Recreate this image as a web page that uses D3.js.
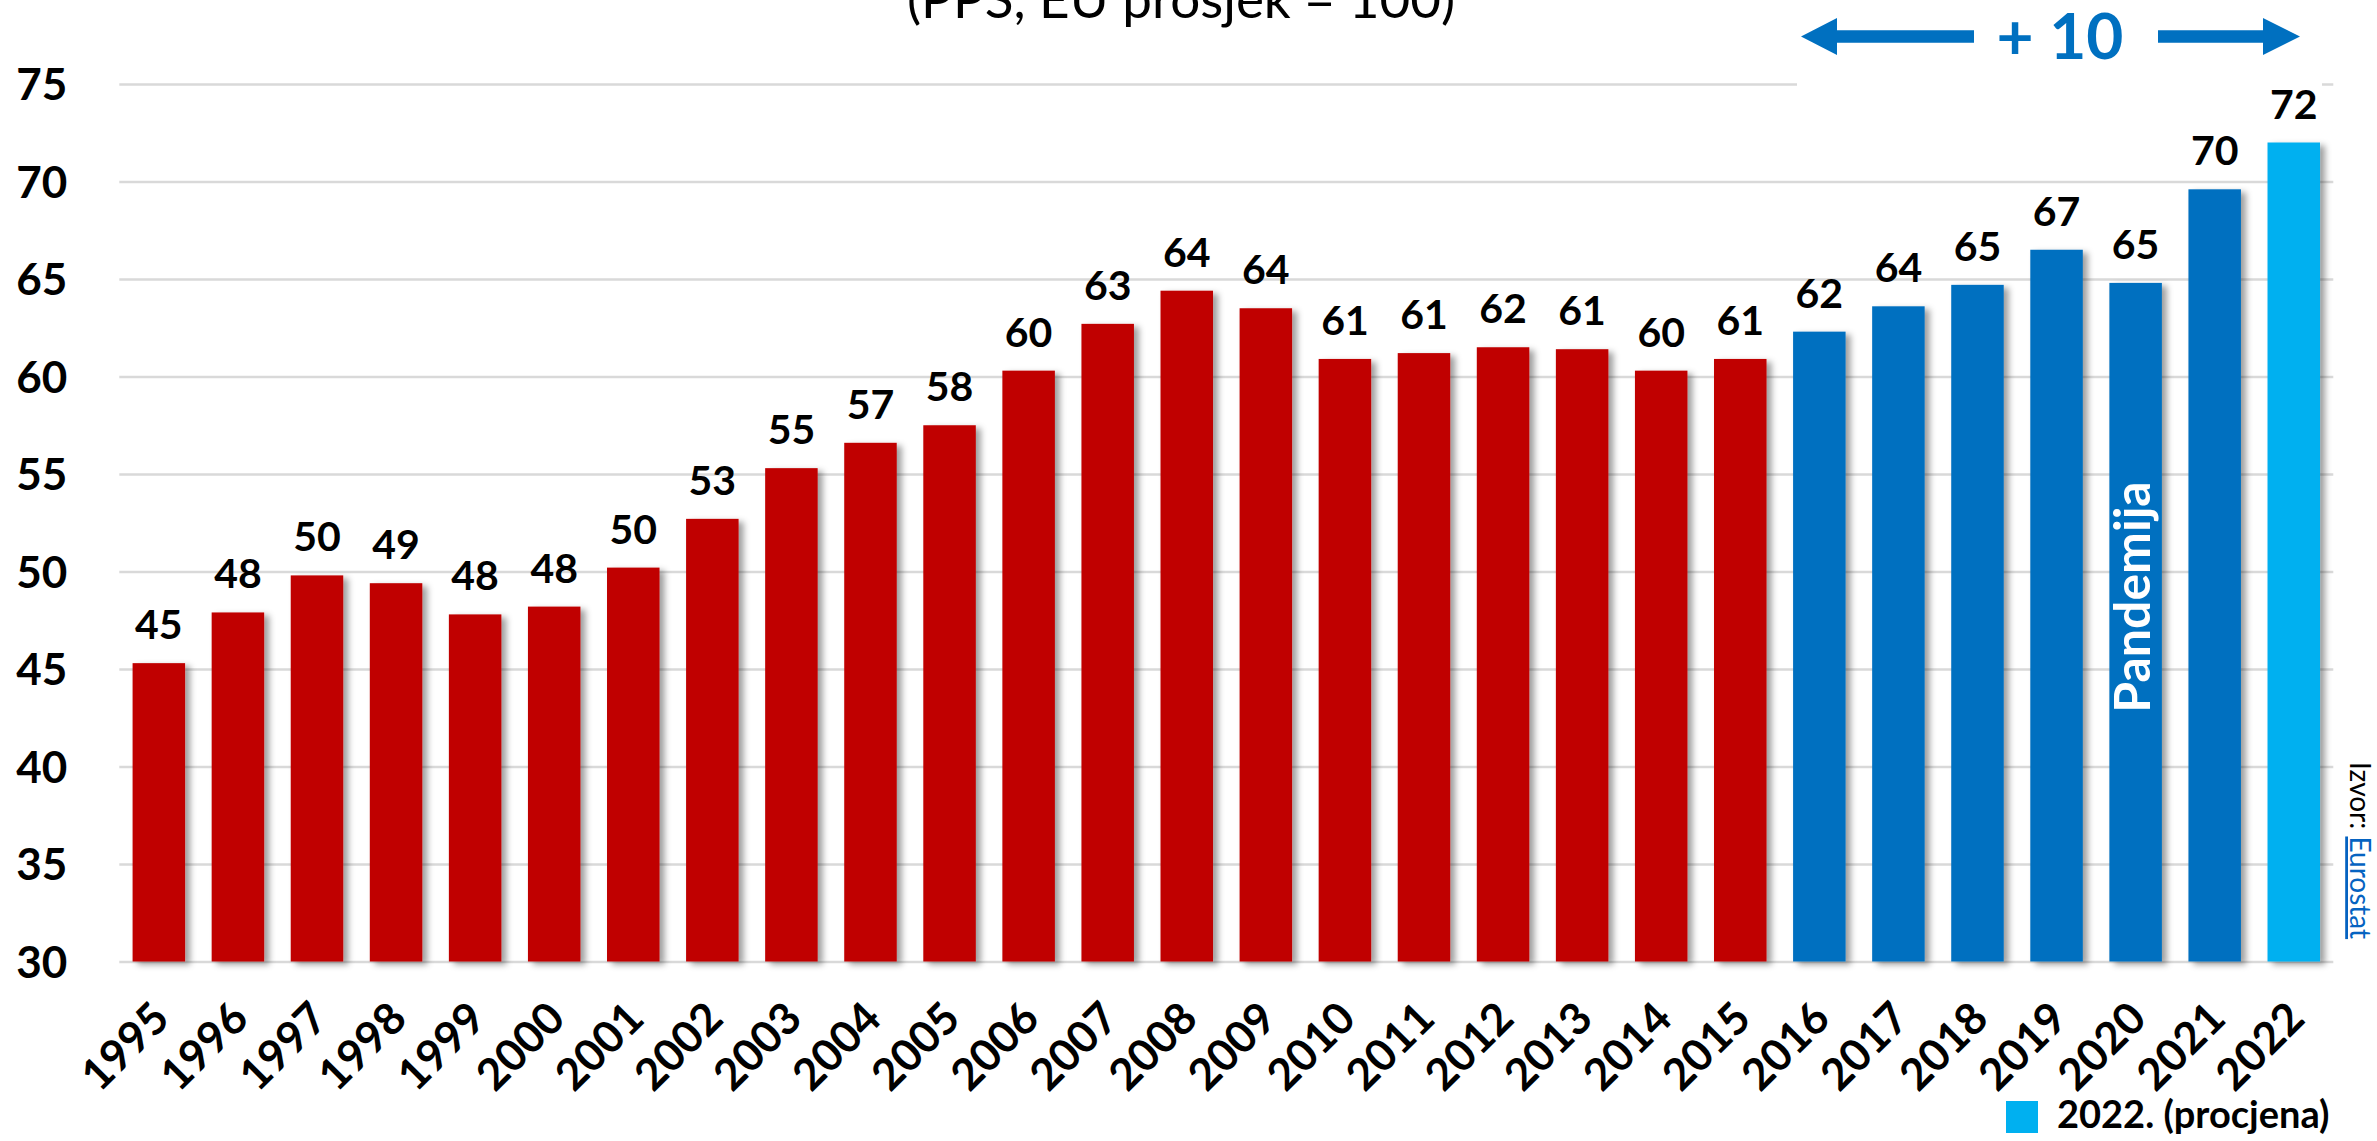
<!DOCTYPE html>
<html>
<head>
<meta charset="utf-8">
<script src="https://cdn.jsdelivr.net/npm/d3@7"></script>
<style>
    html, body { margin: 0; padding: 0; background: #fff; }
    svg { display: block; font-family: Lato, 'Open Sans', sans-serif; }
</style>
</head>
<body>
<svg id="chart" width="2377" height="1141"></svg>
<script>
/**
 * Data.
 */
const years = ['1995', '1996', '1997', '1998', '1999', '2000', '2001', '2002', '2003', '2004',
    '2005', '2006', '2007', '2008', '2009', '2010', '2011', '2012', '2013', '2014',
    '2015', '2016', '2017', '2018', '2019', '2020', '2021', '2022'];
const values = [45.3, 47.9, 49.8, 49.4, 47.8, 48.2, 50.2, 52.7, 55.3, 56.6,
    57.5, 60.3, 62.7, 64.4, 63.5, 60.9, 61.2, 61.5, 61.4, 60.3,
    60.9, 62.3, 63.6, 64.7, 66.5, 64.8, 69.6, 72.0];
const labels = [45, 48, 50, 49, 48, 48, 50, 53, 55, 57,
    58, 60, 63, 64, 64, 61, 61, 62, 61, 60,
    61, 62, 64, 65, 67, 65, 70, 72];
// Period of each bar: colour group
const periods = years.map(y => +y <= 2015 ? 'early' : (+y <= 2021 ? 'late' : 'estimate'));
const yTicks = [30, 35, 40, 45, 50, 55, 60, 65, 70, 75];

const title = '(PPS, EU prosjek = 100)';
const changeText = '+ 10';
const pandemicYear = '2020';
const legendText = '2022. (procjena)';

/**
 * Visual configs.
 */
const colors = { early: '#c00000', late: '#0070c0', estimate: '#00b0f0' };
const plot = { left: 119.3, right: 2333.3, top: 84, bottom: 961.5 };

const svg = d3.select('#chart');

const xScale = d3.scaleBand()
    .domain(years)
    .range([plot.left, plot.right])
    .paddingInner(0.336)
    .paddingOuter(0.168);

const yScale = d3.scaleLinear()
    .domain([30, 75])
    .range([plot.bottom, plot.top]);

// Bar shadow
const defs = svg.append('defs');
defs.append('filter')
    .attr('id', 'shadow')
    .attr('x', '-10%').attr('y', '-5%')
    .attr('width', '140%').attr('height', '115%')
    .append('feDropShadow')
    .attr('dx', 5).attr('dy', 3)
    .attr('stdDeviation', 3)
    .attr('flood-color', '#000')
    .attr('flood-opacity', 0.38);

/**
 * Grid and y axis.
 */
const yAxis = d3.axisLeft(yScale)
    .tickValues(yTicks)
    .tickSize(-(plot.right - plot.left))
    .tickPadding(52);

const yAxisContainer = svg.append('g')
    .attr('class', 'y-axis')
    .attr('transform', 'translate(' + plot.left + ',0)')
    .call(yAxis);

yAxisContainer.select('.domain').remove();
yAxisContainer.selectAll('.tick line')
    .attr('stroke', '#d9d9d9')
    .attr('stroke-width', 2.5);
yAxisContainer.selectAll('.tick text')
    .attr('fill', '#000')
    .attr('font-size', 44)
    .attr('font-weight', 700)
    .attr('font-family', 'Lato, sans-serif')
    .attr('dy', '0.36em');

// Text box of the arrow covers the top gridline
svg.append('rect')
    .attr('x', 1797).attr('y', 0)
    .attr('width', 2322 - 1797).attr('height', 88)
    .attr('fill', '#fff');

/**
 * Bars.
 */
const itemContainer = svg.append('g').attr('class', 'items');

itemContainer.selectAll('rect')
    .data(years)
    .join('rect')
    .attr('x', d => xScale(d))
    .attr('y', (d, i) => yScale(values[i]))
    .attr('width', xScale.bandwidth())
    .attr('height', (d, i) => yScale(30) - yScale(values[i]))
    .attr('fill', (d, i) => colors[periods[i]])
    .attr('filter', 'url(#shadow)');

// Value labels
svg.append('g').attr('class', 'labels')
    .selectAll('text')
    .data(years)
    .join('text')
    .attr('x', d => xScale(d) + xScale.bandwidth() / 2)
    .attr('y', (d, i) => yScale(values[i]) - 24)
    .attr('text-anchor', 'middle')
    .attr('font-size', 41)
    .attr('font-weight', 700)
    .text((d, i) => labels[i]);

/**
 * X axis labels (rotated).
 */
svg.append('g').attr('class', 'x-axis')
    .selectAll('text')
    .data(years)
    .join('text')
    .attr('transform', d => 'translate(' + (xScale(d) + xScale.bandwidth() / 2 + 13) + ',1021) rotate(-45)')
    .attr('text-anchor', 'end')
    .attr('font-size', 44)
    .attr('font-weight', 700)
    .text(d => d);

/**
 * Annotations.
 */
// Subtitle cut at the top edge
svg.append('text')
    .attr('x', 1181).attr('y', 18)
    .attr('text-anchor', 'middle')
    .attr('font-size', 53)
    .attr('fill', '#000')
    .text(title);

// + 10 arrows
const arrowY = 36.5, arrowColor = '#0070c0';
const arrows = svg.append('g').attr('class', 'arrows').attr('fill', arrowColor);
arrows.append('path')
    .attr('d', 'M1801,' + arrowY + ' L1837,' + (arrowY - 18.5) + ' L1837,' + (arrowY - 6.3) +
        ' L1974,' + (arrowY - 6.3) + ' L1974,' + (arrowY + 6.3) + ' L1837,' + (arrowY + 6.3) +
        ' L1837,' + (arrowY + 18.5) + ' Z');
arrows.append('path')
    .attr('d', 'M2300,' + arrowY + ' L2263,' + (arrowY - 18.5) + ' L2263,' + (arrowY - 6.3) +
        ' L2158,' + (arrowY - 6.3) + ' L2158,' + (arrowY + 6.3) + ' L2263,' + (arrowY + 6.3) +
        ' L2263,' + (arrowY + 18.5) + ' Z');
arrows.append('text')
    .attr('x', 2060).attr('y', 59)
    .attr('text-anchor', 'middle')
    .attr('font-size', 64)
    .attr('font-weight', 700)
    .text(changeText);

// Pandemic label inside the 2020 bar
svg.append('text')
    .attr('transform', 'translate(' + (xScale(pandemicYear) + xScale.bandwidth() / 2 + 14) + ',597) rotate(-90)')
    .attr('text-anchor', 'middle')
    .attr('font-size', 50)
    .attr('font-weight', 700)
    .attr('fill', '#fff')
    .text('Pandemija');

// Source
const source = svg.append('text')
    .attr('transform', 'translate(2350,762) rotate(90)')
    .attr('font-size', 28)
    .attr('fill', '#000');
source.append('tspan').text('Izvor: ');
source.append('tspan')
    .attr('fill', '#0563c1')
    .attr('text-decoration', 'underline')
    .text('Eurostat');

// Legend
const legend = svg.append('g').attr('class', 'legend');
legend.append('rect')
    .attr('x', 2006).attr('y', 1101)
    .attr('width', 32).attr('height', 32)
    .attr('fill', colors.estimate);
legend.append('text')
    .attr('x', 2057).attr('y', 1128)
    .attr('font-size', 38)
    .attr('font-weight', 700)
    .text(legendText);
</script>
</body>
</html>
